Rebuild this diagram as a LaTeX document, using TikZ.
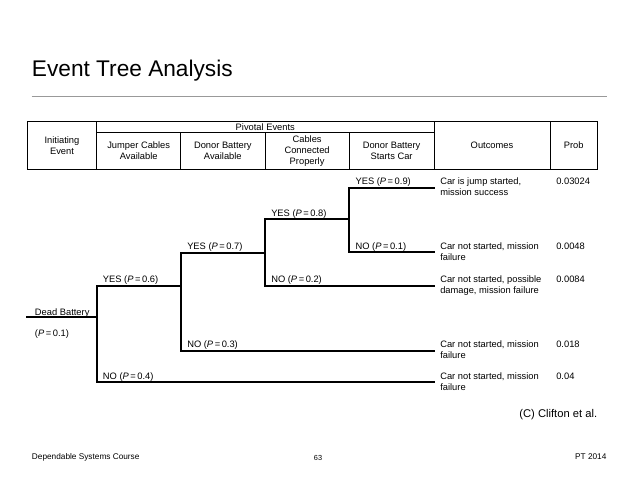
\documentclass[tikz,border=0pt]{standalone}
\usepackage{fontspec}
\setmainfont{Liberation Sans}
\begin{document}
\begin{tikzpicture}[x=0.75pt,y=-0.75pt,
  font=\fontsize{7}{8.25}\selectfont,
  tline/.style={line width=1.3pt, line cap=rect},
  grid/.style={line width=0.6pt},
  blab/.style={anchor=base west, inner sep=0},
  hdr/.style={align=center, inner sep=0},
  outc/.style={anchor=base west, inner sep=0, align=left},
  probt/.style={anchor=base west, inner sep=0},
  foot/.style={inner sep=0, font=\fontsize{6.2}{7}\selectfont}
]
\useasboundingbox (0,0) rectangle (638,479);
% title
\node[anchor=base west, inner sep=0, font=\fontsize{17}{20}\selectfont] (title) at (31.7,76.7) {Event Tree Analysis};
\draw[black!40, line width=0.7pt] (31.7,96) -- (606.5,96);
% table
\draw[grid] (27.3,121.7) rectangle (597.3,169);
\draw[grid] (96.7,121.7) -- (96.7,169)
            (434,121.7) -- (434,169)
            (550,121.7) -- (550,169)
            (96.7,132.7) -- (434,132.7)
            (180.7,132.7) -- (180.7,169)
            (265,132.7) -- (265,169)
            (349.3,132.7) -- (349.3,169);
\node[hdr] (hinit) at (62,145.3) {Initiating\\Event};
\node[hdr] (hpiv) at (265.3,127.4) {Pivotal Events};
\node[hdr] (hjc) at (138.7,151) {Jumper Cables\\Available};
\node[hdr] (hdb) at (222.8,151) {Donor Battery\\Available};
\node[hdr] (hcc) at (307.1,151) {Cables\\Connected\\Properly};
\node[hdr] (hds) at (391.6,151) {Donor Battery\\Starts Car};
\node[hdr] (hout) at (492,145.3) {Outcomes};
\node[hdr] (hprob) at (573.7,145.3) {Prob};
% tree coordinates
\coordinate (db0) at (26.7,317.3);
\coordinate (v1m) at (96.7,317.3);
\coordinate (v1t) at (96.7,285.7);
\coordinate (v1b) at (96.7,382.3);
\coordinate (v2m) at (180.7,285.7);
\coordinate (v2t) at (180.7,252.7);
\coordinate (v2b) at (180.7,350.7);
\coordinate (v3m) at (265,252.7);
\coordinate (v3t) at (265,219.3);
\coordinate (v3b) at (265,285.7);
\coordinate (v4m) at (349.3,219.3);
\coordinate (v4t) at (349.3,187.7);
\coordinate (v4b) at (349.3,252.3);
\coordinate (e1) at (434,187.7);
\coordinate (e2) at (434,252.3);
\coordinate (e3) at (434,285.7);
\coordinate (e4) at (434,350.7);
\coordinate (e5) at (434,382.3);
% tree lines
\draw[tline] (db0) -- (v1m);
\draw[tline] (v1t) -- (v1b);
\draw[tline] (v1t) -- (v2m);
\draw[tline] (v1b) -- (e5);
\draw[tline] (v2t) -- (v2b);
\draw[tline] (v2t) -- (v3m);
\draw[tline] (v2b) -- (e4);
\draw[tline] (v3t) -- (v3b);
\draw[tline] (v3t) -- (v4m);
\draw[tline] (v3b) -- (e3);
\draw[tline] (v4t) -- (v4b);
\draw[tline] (v4t) -- (e1);
\draw[tline] (v4b) -- (e2);
% branch labels
\node[blab] (dbl) at (34.7,315) {Dead Battery};
\node[blab] (dbp) at (34.7,336.5) {(\textit{P}\,=\,0.1)};
\node[blab] (l06) at (102.7,282.7) {YES (\textit{P}\,=\,0.6)};
\node[blab] (l04) at (102.7,379.3) {NO (\textit{P}\,=\,0.4)};
\node[blab] (l07) at (187,249.7) {YES (\textit{P}\,=\,0.7)};
\node[blab] (l03) at (187,347.7) {NO (\textit{P}\,=\,0.3)};
\node[blab] (l08) at (271,216.3) {YES (\textit{P}\,=\,0.8)};
\node[blab] (l02) at (271,282.7) {NO (\textit{P}\,=\,0.2)};
\node[blab] (l09) at (355.3,184.7) {YES (\textit{P}\,=\,0.9)};
\node[blab] (l01) at (355.3,249.3) {NO (\textit{P}\,=\,0.1)};
% outcomes (base = baseline of the last line)
\node[outc] (o1) at (440,195.7) {Car is jump started,\\mission success};
\node[outc] (o2) at (440,260.3) {Car not started, mission\\failure};
\node[outc] (o3) at (440,293.7) {Car not started, possible\\damage, mission failure};
\node[outc] (o4) at (440,358.7) {Car not started, mission\\failure};
\node[outc] (o5) at (440,390.3) {Car not started, mission\\failure};
\node[probt] (p1) at (556,184.7) {0.03024};
\node[probt] (p2) at (556,249.3) {0.0048};
\node[probt] (p3) at (556,282.7) {0.0084};
\node[probt] (p4) at (556,347.7) {0.018};
\node[probt] (p5) at (556,379.3) {0.04};
% footer
\node[inner sep=0, font=\fontsize{8.4}{10}\selectfont] (credit) at (558.3,415) {(C) Clifton et al.};
\node[foot, anchor=base west] (course) at (31.7,459) {Dependable Systems Course};
\node[foot, anchor=base, font=\fontsize{5.5}{6}\selectfont] (page) at (318,460) {63};
\node[foot, anchor=base east] (year) at (606.7,459) {PT 2014};
\end{tikzpicture}
\end{document}
